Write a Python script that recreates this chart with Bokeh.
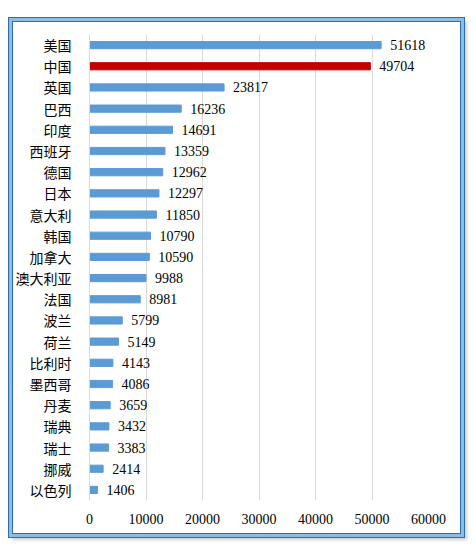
from bokeh.plotting import figure
from bokeh.layouts import column
from bokeh.models import ColumnDataSource, FactorRange, Range1d, FixedTicker, Spacer
from bokeh.core.properties import value
from bokeh.embed import file_html
from bokeh.resources import INLINE

countries = ["美国", "中国", "英国", "巴西", "印度", "西班牙", "德国", "日本", "意大利", "韩国",
             "加拿大", "澳大利亚", "法国", "波兰", "荷兰", "比利时", "墨西哥", "丹麦", "瑞典", "瑞士",
             "挪威", "以色列"]
counts = [51618, 49704, 23817, 16236, 14691, 13359, 12962, 12297, 11850, 10790,
          10590, 9988, 8981, 5799, 5149, 4143, 4086, 3659, 3432, 3383,
          2414, 1406]
x_ticks = [0, 10000, 20000, 30000, 40000, 50000, 60000]

colors = ["#C00000" if c == "中国" else "#5B9BD5" for c in countries]
source = ColumnDataSource(data=dict(country=countries, count=counts, color=colors,
                                    label=[str(v) for v in counts]))

p = figure(width=449, height=513, output_backend="svg", toolbar_location=None,
           y_range=FactorRange(factors=countries[::-1], range_padding=0),
           x_range=Range1d(0, 60000),
           min_border_left=76, min_border_right=33, min_border_top=13, min_border_bottom=34)
p.background_fill_color = None
p.border_fill_color = None

p.hbar(y="country", right="count", left=0, height=0.34, color="color", source=source)
p.text(x="count", y="country", text="label", source=source, x_offset=9,
       text_baseline="middle", text_align="left", text_color="#000000",
       text_font=value("Liberation Serif"), text_font_size="14px")

p.outline_line_color = None
p.ygrid.grid_line_color = None
p.xgrid.grid_line_color = "#D9D9D9"
p.xgrid.ticker = FixedTicker(ticks=x_ticks)

p.xaxis.ticker = FixedTicker(ticks=x_ticks)
p.xaxis.axis_line_color = None
p.xaxis.major_tick_line_color = None
p.xaxis.minor_tick_line_color = None
p.xaxis.major_label_standoff = 7
p.xaxis.major_label_text_font = "Liberation Serif"
p.xaxis.major_label_text_font_size = "14px"
p.xaxis.major_label_text_color = "#000000"

p.yaxis.axis_line_color = "#D9D9D9"
p.yaxis.major_tick_line_color = None
p.yaxis.minor_tick_line_color = None
p.yaxis.major_label_standoff = 12
p.yaxis.major_label_text_font = "Noto Sans CJK SC"
p.yaxis.major_label_text_font_size = "14px"
p.yaxis.major_label_text_color = "#000000"

# chart frame: light blue band between two dark edges, soft shadow
framed = column(p, spacing=0,
                styles={"margin-left": "9px", "padding": "0px",
                        "border": "3px solid #8DBDE6",
                        "outline": "1px solid #2E6DA4",
                        "box-shadow": "inset 0 0 0 1px #2E6DA4, 3px 3px 3px #cfcfcf"})

# empty strip above the frame so its top edge is not at the page top
page = column(Spacer(width=460, height=18), framed, spacing=0)

open("out.html", "w").write(file_html(page, INLINE))
